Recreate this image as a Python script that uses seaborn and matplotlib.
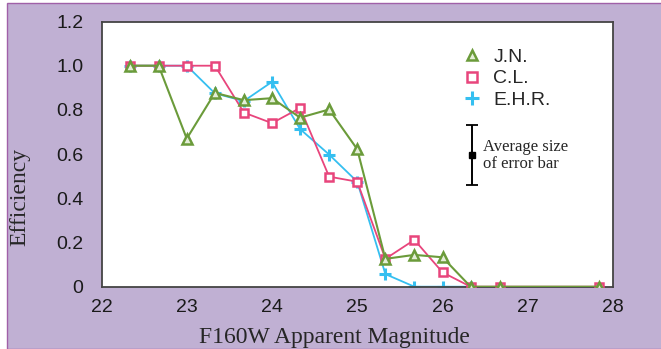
import pandas as pd
import seaborn as sns
import matplotlib.pyplot as plt
from matplotlib.patches import Rectangle

# magnitude bins (1/3 mag) and efficiency per classifier
mag = [22.33, 22.67, 23.0, 23.33, 23.67, 24.0, 24.33, 24.67, 25.0, 25.33, 25.67, 26.0, 26.33, 26.67, 27.83]
jn = [1.0, 1.0, 0.67, 0.877, 0.844, 0.853, 0.765, 0.802, 0.622, 0.126, 0.144, 0.133, 0.0, 0.0, 0.0]
cl = [1.0, 1.0, 1.0, 1.0, 0.788, 0.74, 0.809, 0.498, 0.475, 0.126, 0.212, 0.065, 0.0, 0.0, 0.0]
ehr_mag = [22.33, 22.67, 23.0, 23.33, 23.67, 24.0, 24.33, 24.67, 25.0, 25.33, 25.67, 26.0, 26.33]
ehr = [1.0, 1.0, 1.0, 0.875, 0.84, 0.927, 0.713, 0.598, 0.475, 0.057, 0.0, 0.0, 0.0]

# average error bar shown as a key
err_x = 26.35
err_y = 0.595
err_size = 0.137

GREEN = "#6b9b3a"
PINK = "#e8457c"
CYAN = "#35bff0"
PURPLE = "#c0b0d3"

sns.set_style("white")

fig = plt.figure(figsize=(6.61, 3.49), dpi=100, facecolor="white")
fig.patches.append(Rectangle((7 / 661, 0), 1, 1 - 3 / 349, transform=fig.transFigure,
                             facecolor=PURPLE, edgecolor="#a060a8", linewidth=1.0, zorder=-5))

ax = fig.add_axes([101.5 / 661, 1 - 286.7 / 349, (613 - 101.5) / 661, (286.7 - 21.5) / 349])
ax.set_zorder(2)
ax.set_facecolor("white")

df_ehr = pd.DataFrame({"mag": ehr_mag, "eff": ehr})
df_cl = pd.DataFrame({"mag": mag, "eff": cl})
df_jn = pd.DataFrame({"mag": mag, "eff": jn})

sns.lineplot(data=df_ehr, x="mag", y="eff", ax=ax, color=CYAN, lw=1.3, marker="+",
             markersize=9, markeredgecolor=CYAN, markeredgewidth=2.2, label="E.H.R.", zorder=2)
sns.lineplot(data=df_cl, x="mag", y="eff", ax=ax, color=PINK, lw=1.3, marker="s",
             markersize=6, markerfacecolor="white", markeredgecolor=PINK, markeredgewidth=1.8,
             label="C.L.", zorder=3)
sns.lineplot(data=df_jn, x="mag", y="eff", ax=ax, color=GREEN, lw=1.5, marker="^",
             markersize=7, markerfacecolor="#e4eed8", markeredgecolor=GREEN, markeredgewidth=1.8,
             label="J.N.", zorder=4)

handles, labels = ax.get_legend_handles_labels()
order = [2, 1, 0]
ax.legend([handles[i] for i in order], [labels[i] for i in order],
          loc="upper left", bbox_to_anchor=(0.69, 0.965), frameon=False,
          prop={"family": "Liberation Sans", "size": 14}, handlelength=0.0,
          handletextpad=1.1, labelspacing=0.2, markerscale=1.1)

ax.errorbar([err_x], [err_y], yerr=[err_size], fmt="s", color="black", markersize=5,
            capsize=4, elinewidth=1.4, capthick=1.3)
ax.text(err_x + 0.12, err_y, "Average size\nof error bar", ha="left", va="center",
        family="Liberation Serif", fontsize=12, linespacing=1.1)

ax.set_xlim(22, 28)
ax.set_ylim(0, 1.2)
ax.set_xticks([22, 23, 24, 25, 26, 27, 28])
ax.set_yticks([0, 0.2, 0.4, 0.6, 0.8, 1.0, 1.2])
ax.set_yticklabels(["0", "0.2", "0.4", "0.6", "0.8", "1.0", "1.2"])
ax.tick_params(axis="x", direction="in", length=3, color="#333333", pad=9)
ax.tick_params(axis="y", direction="out", length=3, color="#333333", pad=10)
for lab in ax.get_xticklabels() + ax.get_yticklabels():
    lab.set_family("Liberation Sans")
    lab.set_fontsize(14)
    lab.set_color("#1a1a1a")

for s in ax.spines.values():
    s.set_color("#444444")
    s.set_linewidth(1.3)

ax.set_xlabel("F160W Apparent Magnitude", family="Liberation Serif", fontsize=17)
ax.set_ylabel("Efficiency", family="Liberation Serif", fontsize=17)
ax.xaxis.set_label_coords(0.455, -0.152)
ax.yaxis.set_label_coords(-0.14, 0.338)

fig.savefig("out.png", dpi=100, facecolor=fig.get_facecolor())
